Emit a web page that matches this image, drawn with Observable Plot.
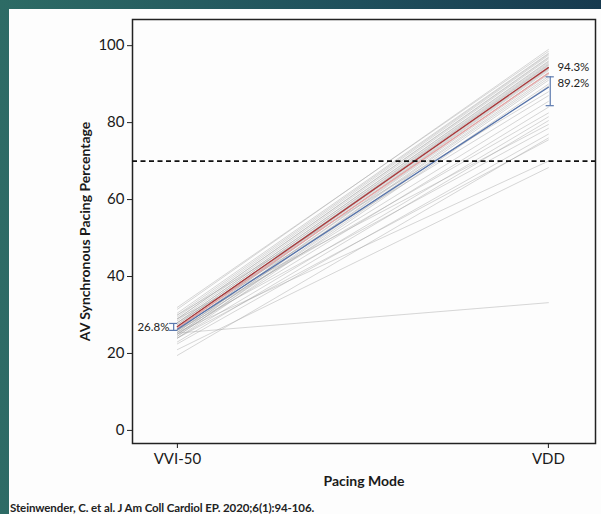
<!DOCTYPE html>
<html>
<head>
<meta charset="utf-8">
<script src="https://cdn.jsdelivr.net/npm/d3@7"></script>
<script src="https://cdn.jsdelivr.net/npm/@observablehq/plot@0.6"></script>
<style>
  html, body { margin: 0; padding: 0; }
  body {
    width: 601px; height: 514px; overflow: hidden; position: relative;
    background: linear-gradient(to right, #2d6b65, #1f4f5c 60%, #173a4f);
    font-family: Lato, "Open Sans", sans-serif;
  }
  #panel {
    position: absolute; left: 9px; top: 9px; right: 0; bottom: 0;
    background: #fdfdfd;
  }
  #chart svg { display: block; }
  #caption {
    position: absolute; left: 1px; top: 493px; line-height: 12px;
    font-size: 11.5px; font-weight: 700; color: #222; letter-spacing: -0.1px;
  }
</style>
</head>
<body>
<div id="panel">
  <div id="chart"></div>
  <div id="caption">Steinwender, C. et al. J Am Coll Cardiol EP. 2020;6(1):94-106.</div>
</div>
<script>
// Pacing modes (x categories)
const modes = ["VVI-50", "VDD"];
// Individual patients: AV synchronous pacing % in VVI-50 and VDD mode
const vvi = [31.5, 32, 30.5, 30, 29.5, 29, 29, 28.5, 28, 28, 27.5, 27.5, 27, 27, 26.5, 26.5, 26, 26, 25.5, 25.5, 25, 25, 24.5, 24.5, 24, 30, 28, 26, 25, 27, 24, 23, 29, 26, 22.5, 24, 25.5, 21, 19.5, 25.3];
const vdd = [99, 98.5, 98, 97.8, 97.5, 97, 96.8, 96.5, 96, 95.8, 95.5, 95.2, 95, 94.8, 94.5, 94, 93.8, 93.5, 93, 92.5, 92, 91.5, 91, 90, 89.5, 88, 87, 85.5, 84, 82.5, 81.5, 80.5, 79.5, 78.5, 77, 75.5, 70, 68.3, 76, 33.2];
// Summary lines
const meanLine = [27.0, 94.3];
const medianLine = [26.3, 89.2];
const pinkLine = [26.6, 92.8];
// Error bars
const vddBar = [84.4, 91.9];
const vviBar = [26.0, 27.8];
// Annotations
const labels = ["94.3%", "89.2%", "26.8%"];
const threshold = 70;
const yTicks = [0, 20, 40, 60, 80, 100];
const xTitle = "Pacing Mode";
const yTitle = "AV Synchronous Pacing Percentage";

const patients = vvi.flatMap((v, i) => [{id: i, x: 0, y: v}, {id: i, x: 1, y: vdd[i]}]);
const toLine = (arr) => arr.map((y, x) => ({x, y}));

const bars = [
  {x: 1.005, y1: vddBar[0], y2: vddBar[1]},
  {x: -0.01, y1: vviBar[0], y2: vviBar[1]}
];
const caps = bars.flatMap(b => [{x: b.x, y: b.y1}, {x: b.x, y: b.y2}]);

const annots = [
  {x: 1, y: meanLine[1], t: labels[0], anchor: "start", dx: 9},
  {x: 1, y: medianLine[1] + 1, t: labels[1], anchor: "start", dx: 9},
  {x: 0, y: 26.8, t: labels[2], anchor: "end", dx: -8}
];

const chart = Plot.plot({
  width: 592,
  height: 483,
  marginLeft: 123,
  marginRight: 6,
  marginTop: 10,
  marginBottom: 49,
  style: {fontFamily: "Lato, 'Open Sans', sans-serif", fontSize: "15px", color: "#1a1a1a", background: "transparent"},
  x: {domain: [-0.121, 1.127], ticks: [0, 1], tickFormat: i => modes[i], label: null},
  y: {domain: [-3.4, 106.8], ticks: yTicks, label: null},
  marks: [
    Plot.frame({stroke: "#222", strokeWidth: 1.5}),
    Plot.axisY({ticks: yTicks, tickSize: 5, tickPadding: 3, fontSize: 15, label: null, stroke: "#222", fill: "#1a1a1a"}),
    Plot.axisX({ticks: [0, 1], tickFormat: i => modes[i], tickSize: 5, tickPadding: 5, fontSize: 15, label: null, fill: "#1a1a1a"}),
    Plot.line(patients, {x: "x", y: "y", z: "id", stroke: "#a0a0a0", strokeOpacity: 0.5, strokeWidth: 0.85}),
    Plot.line(toLine(pinkLine), {x: "x", y: "y", stroke: "#e6a3a3", strokeWidth: 1.2}),
    Plot.line(toLine(medianLine), {x: "x", y: "y", stroke: "#5472aa", strokeWidth: 1.3}),
    Plot.line(toLine(meanLine), {x: "x", y: "y", stroke: "#a8383a", strokeWidth: 1.3}),
    Plot.ruleY([threshold], {stroke: "#111", strokeWidth: 1.6, strokeDasharray: "5,3.5"}),
    Plot.ruleX(bars, {x: "x", y1: "y1", y2: "y2", stroke: "#5a78ad", strokeWidth: 1.2}),
    Plot.ruleY(caps, {y: "y", x1: d => d.x - 0.011, x2: d => d.x + 0.011, stroke: "#5a78ad", strokeWidth: 1.2}),
    Plot.text(annots, {x: "x", y: "y", text: "t", fontSize: 11.5, fill: "#222"}),
    Plot.text([xTitle], {frameAnchor: "bottom", dy: 38, lineAnchor: "middle", fontSize: 14, fontWeight: "bold", fill: "#1a1a1a"}),
    Plot.text([yTitle], {frameAnchor: "left", dx: -47, rotate: -90, textAnchor: "middle", lineAnchor: "middle", fontSize: 14, fontWeight: "bold", fill: "#1a1a1a"})
  ]
});
// apply per-datum text anchors / offsets for the percentage annotations
const annotGroup = chart.querySelectorAll('g[aria-label="text"]')[0];
annotGroup.querySelectorAll('text').forEach((el, i) => {
  const a = annots[i];
  el.setAttribute("text-anchor", a.anchor);
  el.setAttribute("dx", a.dx);
});
document.getElementById("chart").appendChild(chart);
</script>
</body>
</html>
